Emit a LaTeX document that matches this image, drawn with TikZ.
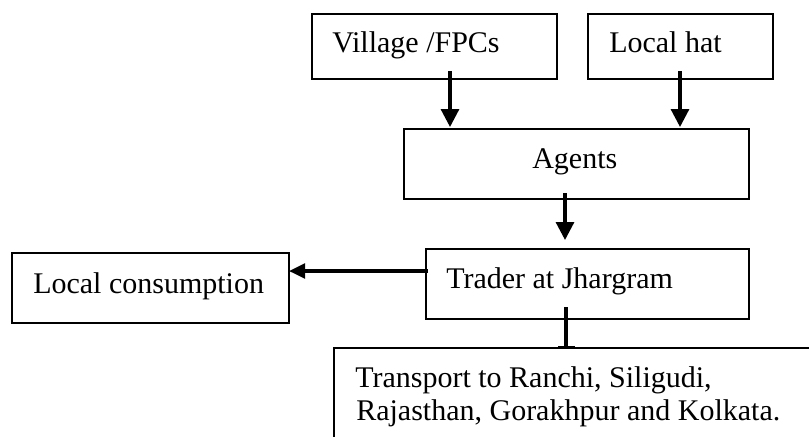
\documentclass[tikz,border=0pt]{standalone}
\usepackage{fontspec}
\setmainfont{Liberation Serif}
\usetikzlibrary{arrows.meta,calc}
\begin{document}
\begin{tikzpicture}[x=0.75pt,y=-0.75pt,
  box/.style={draw=black, line width=1.1pt, fill=none, inner sep=0pt, outer sep=0pt, anchor=north west},
  txt/.style={anchor=base west, inner sep=0pt, font=\fontsize{22.5}{24.75}\selectfont},
  arr/.style={line width=2.4pt, -{Triangle[length=13.5pt,width=13.5pt]}},
  arrl/.style={line width=2.4pt, -{Triangle[length=12pt,width=11pt]}},
  tee/.style={line width=2.4pt, -{Bar[width=12.75pt,line width=1.6pt]}}]
\useasboundingbox (0,0) rectangle (809,436);
\clip (0,0) rectangle (809,436);
\node[box, minimum width=245*0.75pt, minimum height=65*0.75pt] (vill) at (312,14) {};
\node[box, minimum width=185*0.75pt, minimum height=65*0.75pt] (hat) at (588,14) {};
\node[box, minimum width=345*0.75pt, minimum height=70*0.75pt] (agents) at (404,129) {};
\node[box, minimum width=323*0.75pt, minimum height=70*0.75pt] (trader) at (426,249) {};
\node[box, minimum width=277*0.75pt, minimum height=70*0.75pt] (local) at (12,253) {};
\node[box, minimum width=490*0.75pt, minimum height=130*0.75pt] (transport) at (334,348) {};

\node[txt] (tvill) at (332,52) {Village /FPCs};
\node[txt] (that) at (609,52) {Local hat};
\node[txt] (tagents) at (532,168) {Agents};
\node[txt] (ttrader) at (446,288) {Trader at Jhargram};
\node[txt] (tlocal) at (33,293) {Local consumption};
\node[txt] (ttr1) at (355,387) {Transport to Ranchi, Siligudi,};
\node[txt] (ttr2) at (356,420) {Rajasthan, Gorakhpur and Kolkata.};

\draw[arr] ([shift={(15.5,-8)}]vill.south) -- ([shift={(15.5,-2)}]vill.south |- agents.north);
\draw[arr] ([shift={(-0.5,-8)}]hat.south) -- ([shift={(-0.5,-2)}]hat.south |- agents.north);
\draw[arr] ([shift={(-11.5,-6)}]agents.south) -- ([shift={(-11.5,-9)}]agents.south |- trader.north);
\coordinate (t1) at ([shift={(2,-13)}]trader.west);
\draw[arrl] (t1) -- (t1 -| local.east);
\coordinate (t2) at ([shift={(-21.5,-12)}]trader.south);
\draw[tee] (t2) -- (t2 |- transport.north);
\end{tikzpicture}
\end{document}
